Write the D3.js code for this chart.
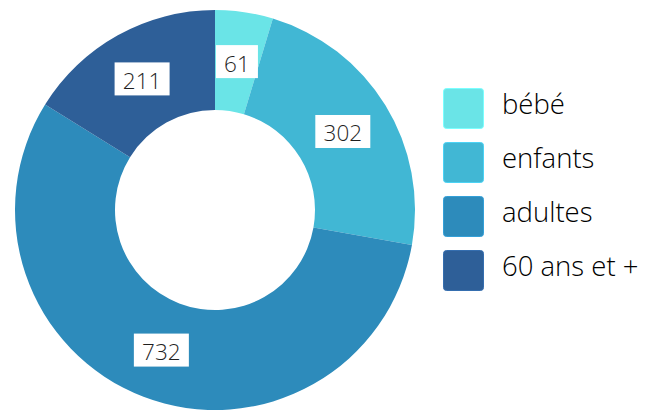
<!DOCTYPE html>
<html><head><meta charset="utf-8">
<script src="https://cdn.jsdelivr.net/npm/d3@7"></script>
<style>html,body{margin:0;padding:0;background:#fff;}svg{display:block;}</style>
</head><body>
<script>
const categories = ["bébé", "enfants", "adultes", "60 ans et +"];
const values = [61, 302, 732, 211];
const colors = ["#6ae4e7", "#41b7d4", "#2d8bbb", "#2e5f98"];

const W = 663, H = 415;
const svg = d3.select("body").append("svg").attr("width", W).attr("height", H);
const cx = 215, cy = 210, R = 200, r0 = 100;

const data = categories.map((c, i) => ({cat: c, value: values[i], color: colors[i]}));
const pie = d3.pie().value(d => d.value).sort(null);
const arc = d3.arc().innerRadius(r0).outerRadius(R);
const arcs = pie(data);

const g = svg.append("g").attr("transform", `translate(${cx},${cy})`);
g.selectAll("path").data(arcs).join("path")
  .attr("d", arc).attr("fill", d => d.data.color);

const labelArc = d3.arc().innerRadius(150).outerRadius(150);
const lg = g.selectAll("g.lbl").data(arcs).join("g").attr("class", "lbl")
  .attr("transform", d => `translate(${labelArc.centroid(d)})`);
lg.each(function(d) {
  const s = d3.select(this);
  const w = d.data.value >= 100 ? 55 : 42, h = 33;
  s.append("rect").attr("x", -w/2).attr("y", -h/2).attr("width", w).attr("height", h)
    .attr("fill", "#fff");
  s.append("text").text(d.data.value)
    .attr("text-anchor", "middle").attr("y", 10)
    .attr("font-family", "'Open Sans', sans-serif").attr("font-weight", 300).attr("font-size", 22.5)
    .attr("fill", "#1f1f1f");
});

const leg = svg.append("g").attr("transform", "translate(443,88)");
const li = leg.selectAll("g").data(data).join("g")
  .attr("transform", (d, i) => `translate(0,${i * 54})`);
li.append("rect").attr("x", 0.5).attr("y", 0.5).attr("width", 40).attr("height", 40)
  .attr("rx", 3).attr("fill", d => d.color).attr("stroke", d => d3.color(d.color).brighter(0.4)).attr("stroke-width", 1);
li.append("text").attr("x", 59).attr("y", 26).text(d => d.cat)
  .attr("font-family", "'Open Sans', sans-serif").attr("font-weight", 300).attr("font-size", 27.5).attr("fill", "#000");
</script>
</body></html>
